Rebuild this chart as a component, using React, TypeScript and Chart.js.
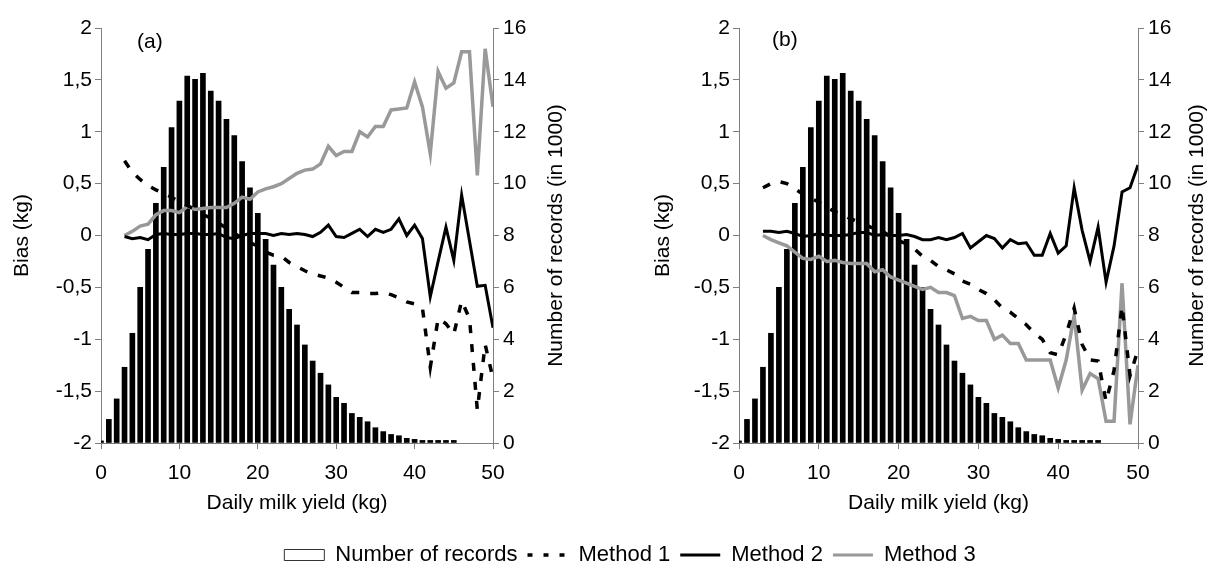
import React, { useEffect, useRef } from 'react';
import { Chart, registerables } from 'chart.js';

Chart.register(...registerables);

const FONT = "'Liberation Sans', Arial, sans-serif";
Chart.defaults.font.family = FONT;
Chart.defaults.font.size = 21;
Chart.defaults.color = '#000';

// Daily milk yield (kg) of each bar
const barYield = [
  0, 1, 2, 3, 4, 5, 6, 7, 8, 9, 10, 11, 12, 13, 14, 15, 16, 17, 18, 19, 20, 21, 22,
  23, 24, 25, 26, 27, 28, 29, 30, 31, 32, 33, 34, 35, 36, 37, 38, 39, 40, 41, 42,
  43, 44, 45,
];
// Number of records (in 1000)
const recordCounts = [
  0.08, 0.91, 1.7, 2.92, 4.23, 6.0, 7.47, 9.24, 10.63, 12.16, 13.18, 14.15, 14.02,
  14.25, 13.57, 13.18, 12.48, 11.85, 10.85, 9.84, 8.85, 7.85, 6.86, 6.0, 5.15, 4.55,
  3.78, 3.16, 2.69, 2.24, 1.76, 1.53, 1.14, 0.99, 0.82, 0.59, 0.44, 0.33, 0.28, 0.18,
  0.14, 0.1, 0.1, 0.1, 0.1, 0.1,
];

// Daily milk yield (kg) of each line point
const lineYield = [
  3, 4, 5, 6, 7, 8, 9, 10, 11, 12, 13, 14, 15, 16, 17, 18, 19, 20, 21, 22, 23, 24, 25,
  26, 27, 28, 29, 30, 31, 32, 33, 34, 35, 36, 37, 38, 39, 40, 41, 42, 43, 44, 45, 46,
  47, 48, 49, 50,
];

// Panel (a) bias (kg)
const biasA1 = [
  0.72, 0.61, 0.54, 0.48, 0.44, 0.41, 0.37, 0.32, 0.29, 0.25, 0.2, 0.17, 0.12, 0.07,
  0.02, -0.02, -0.07, -0.1, -0.16, -0.19, -0.2, -0.26, -0.3, -0.34, -0.37, -0.39, -0.41,
  -0.45, -0.5, -0.55, -0.55, -0.56, -0.56, -0.55, -0.57, -0.6, -0.64, -0.66, -0.7,
  -1.27, -0.8, -0.85, -0.95, -0.63, -0.8, -1.68, -1.05, -1.38,
];
const biasA2 = [
  -0.01, -0.03, -0.02, -0.04, 0.01, 0.02, 0.01, 0.01, 0.02, 0.02, 0.01, 0.01, 0.02,
  -0.02, -0.03, 0.0, 0.02, 0.02, 0.02, 0.0, 0.02, 0.01, 0.02, 0.01, -0.01, 0.03, 0.1,
  -0.01, -0.02, 0.02, 0.06, -0.01, 0.06, 0.03, 0.06, 0.16, 0.0, 0.1, -0.03, -0.59,
  -0.25, 0.08, -0.24, 0.39, -0.05, -0.49, -0.48, -0.89,
];
const biasA3 = [
  0.0, 0.04, 0.09, 0.11, 0.2, 0.24, 0.24, 0.22, 0.28, 0.25, 0.26, 0.27, 0.27, 0.27,
  0.31, 0.37, 0.35, 0.42, 0.45, 0.47, 0.5, 0.55, 0.6, 0.63, 0.64, 0.69, 0.86, 0.77,
  0.81, 0.81, 1.0, 0.95, 1.05, 1.05, 1.21, 1.22, 1.23, 1.48, 1.24, 0.79, 1.58, 1.42,
  1.47, 1.77, 1.77, 0.58, 1.8, 1.24,
];

// Panel (b) bias (kg)
const biasB1 = [
  0.46, 0.5, 0.52, 0.5, 0.45, 0.4, 0.36, 0.32, 0.27, 0.23, 0.2, 0.16, 0.13, 0.1, 0.06,
  0.04, -0.01, -0.05, -0.08, -0.13, -0.2, -0.24, -0.3, -0.33, -0.37, -0.44, -0.47,
  -0.52, -0.56, -0.62, -0.7, -0.74, -0.8, -0.86, -0.94, -1.0, -1.13, -1.15, -0.95,
  -0.7, -1.05, -1.2, -1.21, -1.6, -1.3, -0.68, -1.35, -1.1,
];
const biasB2 = [
  0.04, 0.04, 0.03, 0.04, 0.02, -0.01, 0.0, 0.02, 0.0, 0.0, 0.0, 0.01, 0.03, 0.03, 0.0,
  0.01, 0.0, 0.0, 0.01, -0.01, -0.04, -0.04, -0.02, -0.04, -0.02, 0.02, -0.12, -0.06,
  0.0, -0.03, -0.12, -0.04, -0.08, -0.07, -0.19, -0.19, 0.02, -0.17, -0.1, 0.46, 0.05,
  -0.25, 0.08, -0.45, -0.1, 0.42, 0.46, 0.68,
];
const biasB3 = [
  0.0, -0.04, -0.07, -0.1, -0.16, -0.22, -0.23, -0.2, -0.25, -0.24, -0.26, -0.27,
  -0.27, -0.27, -0.35, -0.33, -0.4, -0.43, -0.46, -0.49, -0.52, -0.5, -0.55, -0.55,
  -0.58, -0.8, -0.78, -0.82, -0.82, -1.0, -0.96, -1.04, -1.04, -1.2, -1.2, -1.2, -1.2,
  -1.47, -1.2, -0.77, -1.49, -1.33, -1.38, -1.79, -1.79, -0.46, -1.82, -1.25,
];

// Axis ticks
const xTicks = [0, 10, 20, 30, 40, 50];
const biasTicks = [-2, -1.5, -1, -0.5, 0, 0.5, 1, 1.5, 2];
const countTicks = [0, 2, 4, 6, 8, 10, 12, 14, 16];

const AXIS_COLOR = '#7f7f7f';
const GRAY = '#999999';

const annotPlugin = {
  id: 'annot',
  afterDraw(chart: any, _args: any, opts: any) {
    const { ctx, chartArea } = chart;
    ctx.save();
    ctx.font = `21px ${FONT}`;
    ctx.fillStyle = '#000';
    ctx.textAlign = 'left';
    ctx.textBaseline = 'middle';
    ctx.fillText(opts.label, chartArea.left + opts.labelDx, chartArea.top + opts.labelDy);
    ctx.translate(chartArea.right + opts.rightDx, (chartArea.top + chartArea.bottom) / 2);
    ctx.rotate(-Math.PI / 2);
    ctx.textAlign = 'center';
    ctx.fillText(opts.rightTitle, 0, 0);
    ctx.restore();
  },
};

const pts = (xs: number[], ys: number[]) => xs.map((x, i) => ({ x, y: ys[i] }));

function panelConfig(
  label: string,
  m1: number[],
  m2: number[],
  m3: number[],
  leftW: number,
  rightW: number,
  leftTitlePad: number,
  labelDx: number,
  labelDy: number,
  rightDx: number
): any {
  const grid = {
    display: true,
    drawOnChartArea: false,
    drawTicks: true,
    tickLength: 6,
    color: AXIS_COLOR,
    offset: false,
  };
  const border = { display: true, color: AXIS_COLOR, width: 1 };
  return {
    type: 'line',
    data: {
      datasets: [
        {
          type: 'line',
          label: 'Method 1',
          data: pts(lineYield, m1),
          borderColor: '#000',
          borderWidth: 3.5,
          borderDash: [8, 11],
          pointRadius: 0,
          tension: 0,
          yAxisID: 'y',
          order: 1,
        },
        {
          type: 'line',
          label: 'Method 2',
          data: pts(lineYield, m2),
          borderColor: '#000',
          borderWidth: 3,
          pointRadius: 0,
          tension: 0,
          yAxisID: 'y',
          order: 2,
        },
        {
          type: 'line',
          label: 'Method 3',
          data: pts(lineYield, m3),
          borderColor: GRAY,
          borderWidth: 3.5,
          pointRadius: 0,
          tension: 0,
          yAxisID: 'y',
          order: 3,
        },
        {
          type: 'bar',
          label: 'Number of records',
          data: pts(barYield, recordCounts),
          backgroundColor: '#000',
          borderWidth: 0,
          barThickness: 5,
          yAxisID: 'y1',
          order: 10,
        },
      ],
    },
    options: {
      animation: false,
      responsive: false,
      maintainAspectRatio: false,
      events: [],
      layout: { padding: { top: 28, left: 0, right: 0, bottom: 0 } },
      plugins: {
        legend: { display: false },
        tooltip: { enabled: false },
        annot: { label, labelDx, labelDy, rightDx, rightTitle: 'Number of records (in 1000)' },
      },
      scales: {
        x: {
          type: 'linear',
          min: 0,
          max: 50,
          offset: false,
          afterBuildTicks: (s: any) => {
            s.ticks = xTicks.map((v) => ({ value: v }));
          },
          ticks: { padding: 12, autoSkip: false, maxRotation: 0 },
          grid,
          border,
          title: {
            display: true,
            text: 'Daily milk yield (kg)',
            padding: { top: 0, bottom: 14 },
          },
          afterFit: (s: any) => {
            s.height = 87;
          },
        },
        y: {
          type: 'linear',
          position: 'left',
          min: -2,
          max: 2,
          afterBuildTicks: (s: any) => {
            s.ticks = biasTicks.map((v) => ({ value: v }));
          },
          ticks: {
            padding: 3,
            callback: (v: number) => String(v).replace('.', ','),
          },
          grid,
          border,
          title: { display: true, text: 'Bias (kg)', padding: { top: leftTitlePad, bottom: 0 } },
          afterFit: (s: any) => {
            s.width = leftW;
          },
        },
        y1: {
          type: 'linear',
          position: 'right',
          min: 0,
          max: 16,
          afterBuildTicks: (s: any) => {
            s.ticks = countTicks.map((v) => ({ value: v }));
          },
          ticks: { padding: 4 },
          grid,
          border,
          afterFit: (s: any) => {
            s.width = rightW;
          },
        },
      },
    },
    plugins: [annotPlugin],
  };
}

const legendItems = [
  { text: 'Number of records', pointStyle: 'rect', fillStyle: '#fff', strokeStyle: '#333', lineWidth: 1, lineDash: [] },
  { text: 'Method 1', pointStyle: 'line', fillStyle: '#000', strokeStyle: '#000', lineWidth: 3.5, lineDash: [5, 11] },
  { text: 'Method 2', pointStyle: 'line', fillStyle: '#000', strokeStyle: '#000', lineWidth: 3, lineDash: [] },
  { text: 'Method 3', pointStyle: 'line', fillStyle: GRAY, strokeStyle: GRAY, lineWidth: 3, lineDash: [] },
];

const legendConfig: any = {
  type: 'line',
  data: {
    labels: [],
    datasets: legendItems.map((it) => ({ label: it.text, data: [], borderColor: it.strokeStyle })),
  },
  options: {
    animation: false,
    responsive: false,
    maintainAspectRatio: false,
    events: [],
    layout: { padding: { left: 50, right: 0, top: 0, bottom: 0 } },
    scales: { x: { display: false }, y: { display: false } },
    plugins: {
      tooltip: { enabled: false },
      legend: {
        display: true,
        position: 'bottom',
        labels: {
          usePointStyle: true,
          pointStyleWidth: 40,
          boxHeight: 11,
          padding: 10,
          color: '#000',
          font: { size: 22, family: FONT },
          generateLabels: () =>
            legendItems.map((it, i) => ({
              text: it.text,
              fillStyle: it.fillStyle,
              strokeStyle: it.strokeStyle,
              lineWidth: it.lineWidth,
              lineDash: it.lineDash,
              pointStyle: it.pointStyle,
              fontColor: '#000',
              hidden: false,
              datasetIndex: i,
            })),
        },
      },
    },
  },
};

export default function App() {
  const aRef = useRef<HTMLCanvasElement>(null);
  const bRef = useRef<HTMLCanvasElement>(null);
  const lRef = useRef<HTMLCanvasElement>(null);

  useEffect(() => {
    const charts = [
      new Chart(aRef.current!, panelConfig('(a)', biasA1, biasA2, biasA3, 101, 112, 9.4, 36, 14, 63)),
      new Chart(bRef.current!, panelConfig('(b)', biasB1, biasB2, biasB3, 134, 72, 45.4, 33, 12, 59)),
      new Chart(lRef.current!, legendConfig),
    ];
    return () => charts.forEach((c) => c.destroy());
  }, []);

  return (
    <div style={{ position: 'absolute', left: 0, top: 0, width: 1210, height: 576, background: '#fff' }}>
      <canvas ref={aRef} width={605} height={530} style={{ position: 'absolute', left: 0, top: 0 }} />
      <canvas ref={bRef} width={605} height={530} style={{ position: 'absolute', left: 605, top: 0 }} />
      <canvas ref={lRef} width={1210} height={176} style={{ position: 'absolute', left: 0, top: 400 }} />
    </div>
  );
}
